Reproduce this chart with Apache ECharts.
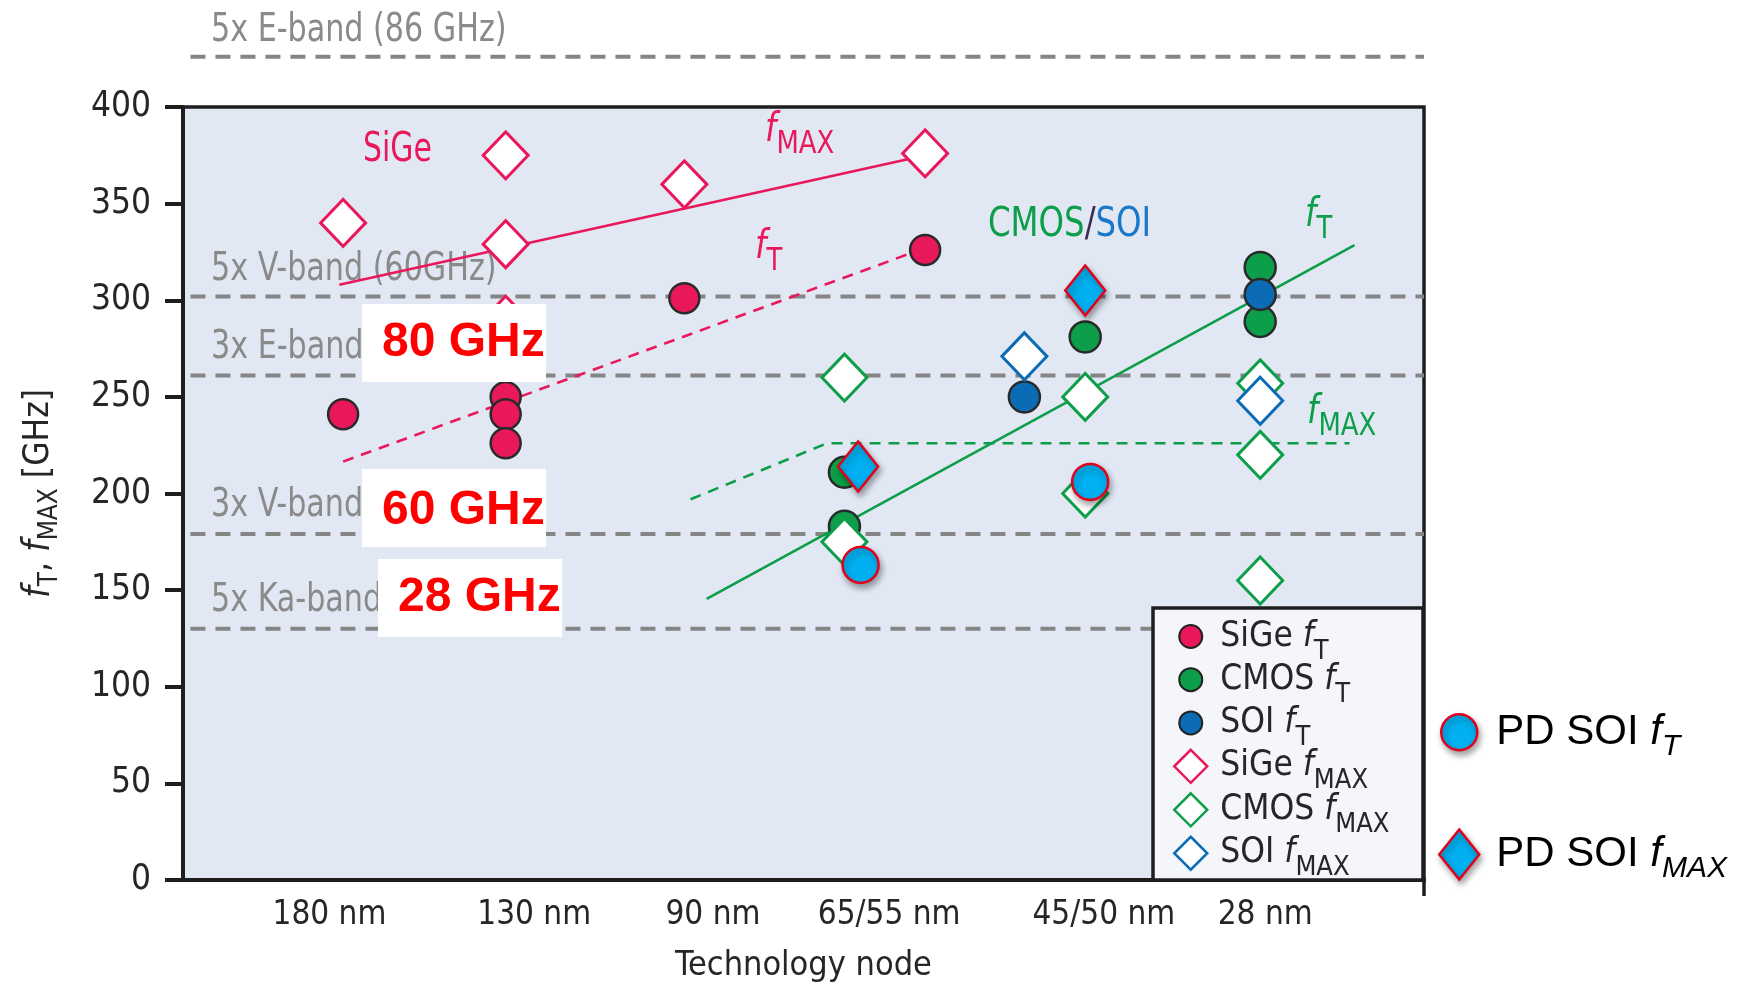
<!DOCTYPE html>
<html>
<head>
<meta charset="utf-8">
<script src="https://cdn.jsdelivr.net/npm/echarts@6/dist/echarts.min.js"></script>
<style>html,body{margin:0;padding:0;background:#fff}#chart{width:1745px;height:990px}</style>
</head>
<body>
<div id="chart"></div>
<script>
// ---------------- data ----------------
// x is a relative position across the plot (0 = left axis, 100 = right border)
const xTickPositions = [11.8, 28.3, 42.7, 56.9, 74.2, 87.2];
const xTickLabels = ['180 nm', '130 nm', '90 nm', '65/55 nm', '45/50 nm', '28 nm'];
const yMin = 0, yMax = 400, yInterval = 50;

const sigeFt    = [[12.9, 241], [26.0, 250], [26.0, 241], [26.0, 226], [40.4, 301], [59.8, 326]];
const cmosFt    = [[53.3, 211], [53.3, 183], [72.7, 281], [86.8, 317], [86.8, 289]];
const soiFt     = [[67.8, 250], [86.8, 303]];
const sigeFmax  = [[12.9, 340], [26.0, 375], [26.0, 329], [26.0, 290], [40.4, 360], [59.8, 376]];
const cmosFmax  = [[53.3, 260], [53.3, 175], [72.7, 250], [72.7, 200], [86.8, 257], [86.8, 220], [86.8, 155]];
const soiFmax   = [[67.8, 271], [86.8, 248]];
const pdSoiFt   = [[54.6, 163], [73.1, 206]];
const pdSoiFmax = [[54.4, 214], [72.7, 305]];

const sigeFmaxTrend = [[12.6, 308], [58.4, 373]];
const sigeFtTrend   = [[12.9, 216.5], [58.5, 324]];
const cmosFtTrend   = [[42.2, 145.5], [94.4, 328.5]];
const cmosFmaxTrend = [[40.9, 197], [51.9, 226], [94.0, 226]];

const bandLevels = [426, 302, 261, 179, 130];
const bandLabels = ['5x E-band (86 GHz)', '5x V-band (60GHz)', '3x E-band', '3x V-band', '5x Ka-band'];
const bandStart = 0.6, bandEnd = 100;
const boxLabels = ['80 GHz', '60 GHz', '28 GHz'];

// ---------------- style ----------------
const NARROW = "'DejaVu Sans Condensed','DejaVu Sans',sans-serif";
const SANS = "'Liberation Sans',Arial,sans-serif";
const C = {
  sige: '#e8185a', cmos: '#0c9e48', soi: '#0b6cb5', pd: '#00b0f0', pdBorder: '#e3001b',
  gray: '#8a8a8a', dash: '#858585', dark: '#262626', bg: '#e1e8f4', legendBg: '#f4f6fa'
};

const chart = echarts.init(document.getElementById('chart'), null, { renderer: 'canvas' });

function band(level) {
  return {
    type: 'line', data: [[bandStart, level], [bandEnd, level]], symbol: 'none', clip: false,
    silent: true, z: 1, lineStyle: { color: C.dash, width: 4, type: [15, 10] }
  };
}
function trend(data, color, dashed) {
  return {
    type: 'line', data, symbol: 'none', silent: true, z: 1,
    lineStyle: { color, width: 2.6, type: dashed ? [11, 8] : 'solid' }
  };
}
function scatter(name, data, symbol, size, fill, border, bw, shadow) {
  const s = {
    name, type: 'scatter', data, symbol, symbolSize: size, z: 2,
    itemStyle: { color: fill, borderColor: border, borderWidth: bw, opacity: 1 },
    emphasis: { disabled: true }
  };
  if (shadow) Object.assign(s.itemStyle, { shadowBlur: 6, shadowColor: 'rgba(0,0,0,0.35)', shadowOffsetX: 2, shadowOffsetY: 4 });
  return s;
}

const SX = 0.86; // horizontal squeeze of annotation text (reference uses a condensed face)
function subRich(color, fSize, sSize) {
  return {
    i: { fontFamily: NARROW, fontStyle: 'italic', fontSize: fSize, fill: color, lineHeight: 50 },
    s: { fontFamily: NARROW, fontSize: sSize, fill: color, lineHeight: 50, height: 10, padding: [28, 0, 0, 0] }
  };
}
function annot(x, y, text, rich, sx) {
  return { type: 'text', x, y, z: 1, silent: true, scaleX: sx || SX,
    style: { text, rich, align: 'left', verticalAlign: 'middle' } };
}

const graphics = [];
const bandLabelY = [31, 269.5, 348, 505.5, 600.5];
bandLabels.forEach((t, k) => {
  graphics.push({ type: 'text', x: 211, y: bandLabelY[k], z: 1, silent: true, scaleX: SX,
    style: { text: t, fontFamily: NARROW, fontSize: 39, fill: C.gray, align: 'left', verticalAlign: 'middle' } });
});
graphics.push({ type: 'text', x: 363, y: 151, z: 1, silent: true, scaleX: 0.83,
  style: { text: 'SiGe', fontFamily: NARROW, fontSize: 40, fill: C.sige, align: 'left', verticalAlign: 'middle' } });
graphics.push(annot(765, 131, '{i|f}{s|MAX}', subRich(C.sige, 40, 32), 0.9));
graphics.push(annot(755, 248, '{i|f}{s|T}', subRich(C.sige, 40, 32), 0.9));
graphics.push(annot(1305, 216, '{i|f}{s|T}', subRich(C.cmos, 40, 32), 0.9));
graphics.push(annot(1307, 413, '{i|f}{s|MAX}', subRich(C.cmos, 40, 32), 0.9));
graphics.push(annot(988, 226, '{g|CMOS}{k|/}{b|SOI}', {
  g: { fontFamily: NARROW, fontSize: 40, fill: C.cmos },
  k: { fontFamily: NARROW, fontSize: 40, fill: '#3a2a55' },
  b: { fontFamily: NARROW, fontSize: 40, fill: '#1a78c8' }
}, 0.9));
// white boxes with red frequency text
const boxes = [[362, 304, 184, 78], [362, 469, 184, 78], [378, 559, 184, 78]];
const boxTextY = [343, 511, 598];
boxes.forEach((b, k) => {
  graphics.push({ type: 'rect', z: 10, silent: true, shape: { x: b[0], y: b[1], width: b[2], height: b[3] }, style: { fill: '#fff' } });
  graphics.push({ type: 'text', z: 11, silent: true, x: b[0] + 20, y: boxTextY[k],
    style: { text: boxLabels[k], fontFamily: SANS, fontWeight: 'bold', fontSize: 48, fill: '#ff0000', align: 'left', verticalAlign: 'middle' } });
});
// legend frame
graphics.push({ type: 'rect', z: 3, silent: true, shape: { x: 1153, y: 608, width: 270, height: 272 },
  style: { fill: C.legendBg, stroke: '#1e1e1e', lineWidth: 3.5 } });
graphics.push({ type: 'line', z: 3, silent: true, shape: { x1: 1424, y1: 878, x2: 1424, y2: 896 },
  style: { stroke: '#1e1e1e', lineWidth: 3.5 } });

const circ33 = 'path://M0 0M33 33M16.5 5A11.5 11.5 0 1 1 16.5 28A11.5 11.5 0 1 1 16.5 5Z';
const circ40 = 'path://M0 0M40 50M20 7A18 18 0 1 1 20 43A18 18 0 1 1 20 7Z';

const legendNames = {
  'SiGe fT': '{n0|SiGe }{i|f}{s|T}',
  'CMOS fT': '{n0|CMOS }{i|f}{s|T}',
  'SOI fT': '{n0|SOI }{i|f}{s|T}',
  'SiGe fMAX': '{n0|SiGe }{i|f}{s|MAX}',
  'CMOS fMAX': '{n0|CMOS }{i|f}{s|MAX}',
  'SOI fMAX': '{n0|SOI }{i|f}{s|MAX}',
  'PD SOI fT': '{n0|PD SOI }{i|f}{s|T}',
  'PD SOI fMAX': '{n0|PD SOI }{i|f}{s|MAX}'
};

const option = {
  animation: false,
  backgroundColor: '#ffffff',
  grid: { left: 183, top: 107, right: 321, bottom: 110, show: true, backgroundColor: C.bg, borderColor: '#1e1e1e', borderWidth: 3.5 },
  xAxis: {
    type: 'value', min: 0, max: 100,
    name: 'Technology node', nameLocation: 'middle', nameGap: 69,
    nameTextStyle: { fontFamily: NARROW, fontSize: 34, color: C.dark },
    axisLine: { show: true, onZero: false, lineStyle: { color: '#1e1e1e', width: 4 } },
    axisTick: { show: false },
    splitLine: { show: false },
    axisLabel: {
      customValues: xTickPositions, margin: 19,
      fontFamily: NARROW, fontSize: 33, color: C.dark,
      formatter: v => { const k = xTickPositions.findIndex(p => Math.abs(p - v) < 1e-6); return k >= 0 ? xTickLabels[k] : ''; }
    }
  },
  yAxis: {
    type: 'value', min: yMin, max: yMax, interval: yInterval,
    name: '{i|f}{s|T}{n|, }{i|f}{s|MAX}{n| [GHz]}', nameLocation: 'middle', nameGap: 122,
    nameTextStyle: {
      color: C.dark,
      rich: {
        i: { fontFamily: NARROW, fontStyle: 'italic', fontSize: 37, color: C.dark, lineHeight: 44 },
        s: { fontFamily: NARROW, fontSize: 26, color: C.dark, lineHeight: 44, height: 10, padding: [22, 0, 0, 0] },
        n: { fontFamily: NARROW, fontSize: 35, color: C.dark, lineHeight: 44 }
      }
    },
    axisLine: { show: true, lineStyle: { color: '#1e1e1e', width: 4 } },
    axisTick: { show: true, inside: false, length: 18, lineStyle: { color: '#1e1e1e', width: 4 } },
    splitLine: { show: false },
    axisLabel: { margin: 32, fontFamily: NARROW, fontSize: 35, color: C.dark }
  },
  legend: [
    {
      data: ['SiGe fT', 'CMOS fT', 'SOI fT', 'SiGe fMAX', 'CMOS fMAX', 'SOI fMAX'].map((n, k) => {
        const cols = [C.sige, C.cmos, C.soi];
        if (k < 3) return { name: n, icon: circ33, itemStyle: { color: cols[k], borderColor: '#222', borderWidth: 2 } };
        return { name: n, icon: 'diamond', itemStyle: { color: '#fff', borderColor: cols[k - 3], borderWidth: 2.5 } };
      }),
      orient: 'vertical', left: 1173, top: 619, padding: 0, itemGap: -2.8,
      itemWidth: 33, itemHeight: 33, selectedMode: false, z: 4,
      formatter: n => legendNames[n],
      textStyle: {
        color: C.dark,
        rich: {
          n0: { fontFamily: NARROW, fontSize: 35, color: C.dark, lineHeight: 36, padding: [0, 0, 0, 8] },
          i: { fontFamily: NARROW, fontStyle: 'italic', fontSize: 35, color: C.dark, lineHeight: 36 },
          s: { fontFamily: NARROW, fontSize: 27, color: C.dark, lineHeight: 36, height: 4, padding: [30, 0, 0, 0] }
        }
      }
    },
    {
      data: [
        { name: 'PD SOI fT', icon: circ40, itemStyle: { color: C.pd, borderColor: C.pdBorder, borderWidth: 2.5, shadowBlur: 6, shadowColor: 'rgba(0,0,0,0.35)', shadowOffsetX: 2, shadowOffsetY: 4 } },
        { name: 'PD SOI fMAX', icon: 'diamond', itemStyle: { color: C.pd, borderColor: C.pdBorder, borderWidth: 2.5, shadowBlur: 6, shadowColor: 'rgba(0,0,0,0.35)', shadowOffsetX: 2, shadowOffsetY: 4 } }
      ],
      orient: 'vertical', left: 1438, top: 706, padding: 0, itemGap: 67,
      itemWidth: 40, itemHeight: 50, symbolKeepAspect: false, selectedMode: false,
      formatter: n => legendNames[n],
      textStyle: {
        color: '#000',
        rich: {
          n0: { fontFamily: SANS, fontSize: 42, color: '#000', lineHeight: 50, padding: [0, 0, 0, 12] },
          i: { fontFamily: SANS, fontStyle: 'italic', fontSize: 42, color: '#000', lineHeight: 50 },
          s: { fontFamily: SANS, fontStyle: 'italic', fontSize: 30, color: '#000', lineHeight: 50, height: 20, padding: [28, 0, 0, 0] }
        }
      }
    }
  ],
  graphic: { elements: graphics },
  series: [
    ...bandLevels.map(band),
    trend(sigeFmaxTrend, C.sige, false),
    trend(sigeFtTrend, C.sige, true),
    trend(cmosFtTrend, C.cmos, false),
    trend(cmosFmaxTrend, C.cmos, true),
    scatter('SiGe fMAX', sigeFmax, 'diamond', [45, 47], '#ffffff', C.sige, 3),
    scatter('SiGe fT', sigeFt, 'circle', 30, C.sige, '#2a2a2a', 2.5),
    scatter('CMOS fT', cmosFt, 'circle', 31, C.cmos, '#2a2a2a', 2.5),
    scatter('SOI fT', soiFt, 'circle', 31, C.soi, '#2a2a2a', 2.5),
    scatter('CMOS fMAX', cmosFmax, 'diamond', [45, 47], '#ffffff', C.cmos, 3),
    scatter('SOI fMAX', soiFmax, 'diamond', [45, 47], '#ffffff', C.soi, 3),
    scatter('PD SOI fT', pdSoiFt, 'circle', 36, C.pd, C.pdBorder, 2.5, true),
    scatter('PD SOI fMAX', pdSoiFmax, 'diamond', [40, 50], C.pd, C.pdBorder, 2.5, true)
  ]
};
chart.setOption(option);
</script>
</body>
</html>
